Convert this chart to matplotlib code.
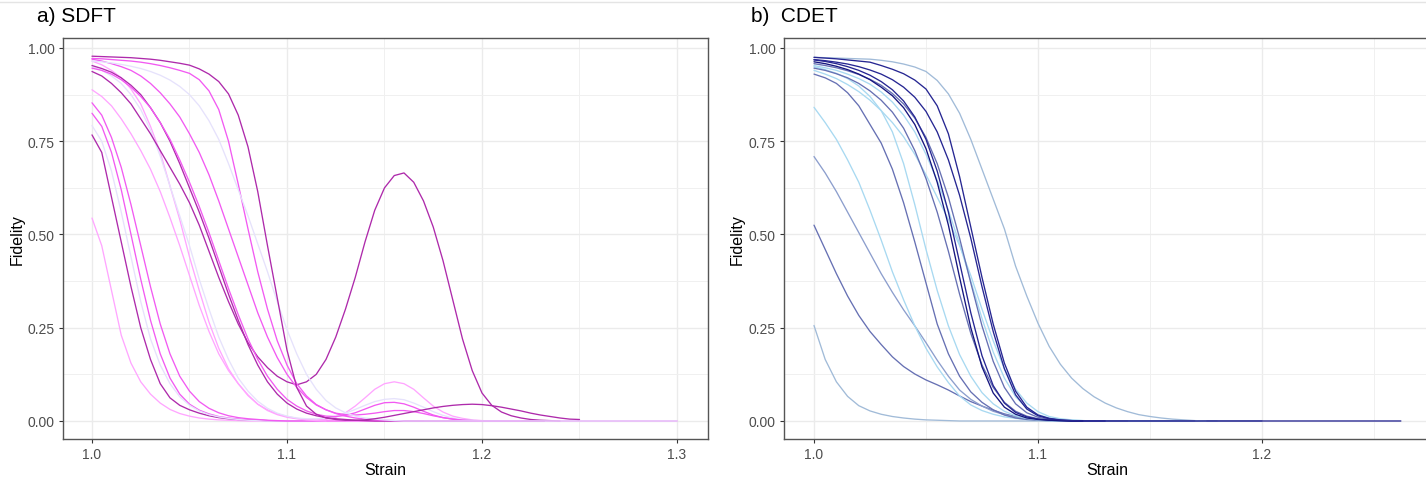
import matplotlib
matplotlib.use("Agg")
import matplotlib.pyplot as plt
from matplotlib.lines import Line2D
from matplotlib.ticker import MultipleLocator

plt.rcParams['font.family'] = ['Liberation Sans', 'DejaVu Sans']

# Strain grid shared by every curve (step 0.005)
strain_grid = [1.000, 1.005, 1.010, 1.015, 1.020, 1.025, 1.030, 1.035, 1.040, 1.045,
               1.050, 1.055, 1.060, 1.065, 1.070, 1.075, 1.080, 1.085, 1.090, 1.095,
               1.100, 1.105, 1.110, 1.115, 1.120, 1.125, 1.130, 1.135, 1.140, 1.145,
               1.150, 1.155, 1.160, 1.165, 1.170, 1.175, 1.180, 1.185, 1.190, 1.195,
               1.200, 1.205, 1.210, 1.215, 1.220, 1.225, 1.230, 1.235, 1.240, 1.245,
               1.250]

# ---- a) SDFT fidelity curves ----
sdft_1 = [0.544, 0.47, 0.35, 0.23, 0.155, 0.105, 0.072, 0.048, 0.031, 0.020, 0.013, 0.008, 0.005, 0.003, 0.002, 0.001, 0.0]
sdft_2 = [0.767, 0.72, 0.60, 0.48, 0.36, 0.25, 0.165, 0.10, 0.062, 0.042, 0.030, 0.021, 0.014, 0.009, 0.006, 0.004, 0.003, 0.002, 0.001, 0.0]
sdft_3 = [0.825, 0.79, 0.72, 0.62, 0.50, 0.38, 0.27, 0.18, 0.115, 0.072, 0.045, 0.029, 0.019, 0.012, 0.008, 0.005, 0.003, 0.002, 0.001, 0.0]
sdft_4 = [0.792, 0.75, 0.67, 0.56, 0.44, 0.32, 0.22, 0.15, 0.10, 0.065, 0.042, 0.027, 0.017, 0.011, 0.007, 0.004, 0.002, 0.001, 0.0]
sdft_5 = [0.853, 0.82, 0.76, 0.68, 0.58, 0.47, 0.36, 0.26, 0.18, 0.12, 0.08, 0.052, 0.034, 0.022, 0.014, 0.009, 0.006, 0.004, 0.002, 0.001, 0.0]
sdft_6 = [0.888, 0.87, 0.845, 0.81, 0.77, 0.725, 0.675, 0.615, 0.545, 0.47, 0.39, 0.31, 0.24, 0.18, 0.135, 0.10, 0.07, 0.045, 0.028, 0.017,
          0.010, 0.006, 0.003, 0.001, 0.0]
sdft_7 = [0.965, 0.955, 0.94, 0.92, 0.89, 0.85, 0.79, 0.72, 0.63, 0.54, 0.44, 0.35, 0.265, 0.195, 0.14, 0.10, 0.068, 0.045, 0.030, 0.019,
          0.012, 0.007, 0.004, 0.003, 0.004, 0.010, 0.022, 0.040, 0.062, 0.085, 0.100, 0.105, 0.100, 0.085, 0.062, 0.040, 0.024, 0.013, 0.007, 0.003,
          0.001, 0.0]
sdft_8 = [0.95, 0.94, 0.925, 0.905, 0.875, 0.835, 0.78, 0.71, 0.63, 0.55, 0.47, 0.38, 0.30, 0.225, 0.165, 0.115, 0.08, 0.053, 0.034, 0.021,
          0.013, 0.008, 0.006, 0.006, 0.008, 0.013, 0.021, 0.031, 0.042, 0.052, 0.058, 0.060, 0.057, 0.048, 0.037, 0.025, 0.015, 0.008, 0.004, 0.002,
          0.0]
sdft_9 = [0.937, 0.925, 0.905, 0.88, 0.85, 0.81, 0.77, 0.725, 0.68, 0.635, 0.585, 0.525, 0.455, 0.385, 0.32, 0.26, 0.21, 0.172, 0.143, 0.12,
          0.105, 0.097, 0.105, 0.125, 0.165, 0.225, 0.30, 0.385, 0.48, 0.565, 0.625, 0.658, 0.665, 0.64, 0.59, 0.52, 0.43, 0.325, 0.22, 0.135,
          0.075, 0.042, 0.024, 0.014, 0.008, 0.004, 0.002, 0.001, 0.0]
sdft_10 = [0.953, 0.945, 0.935, 0.92, 0.90, 0.875, 0.84, 0.80, 0.75, 0.69, 0.625, 0.56, 0.49, 0.415, 0.34, 0.27, 0.205, 0.15, 0.105, 0.072,
           0.048, 0.032, 0.021, 0.014, 0.009, 0.006, 0.004, 0.002, 0.001, 0.0]
sdft_11 = [0.946, 0.94, 0.93, 0.915, 0.895, 0.87, 0.84, 0.80, 0.755, 0.70, 0.64, 0.575, 0.505, 0.43, 0.355, 0.285, 0.22, 0.165, 0.12, 0.085,
           0.058, 0.04, 0.027, 0.018, 0.013, 0.012, 0.015, 0.022, 0.032, 0.042, 0.049, 0.05, 0.046, 0.037, 0.026, 0.016, 0.009, 0.005, 0.002, 0.001,
           0.0]
sdft_12 = [0.97, 0.965, 0.958, 0.95, 0.94, 0.925, 0.905, 0.88, 0.85, 0.815, 0.77, 0.72, 0.66, 0.59, 0.515, 0.44, 0.365, 0.29, 0.225, 0.17,
           0.125, 0.09, 0.063, 0.043, 0.03, 0.02, 0.013, 0.008, 0.005, 0.003, 0.002, 0.001, 0.0]
sdft_13 = [0.972, 0.971, 0.969, 0.967, 0.965, 0.962, 0.958, 0.953, 0.947, 0.94, 0.932, 0.915, 0.885, 0.835, 0.75, 0.635, 0.515, 0.40, 0.30, 0.215,
           0.15, 0.10, 0.067, 0.044, 0.03, 0.021, 0.017, 0.016, 0.018, 0.021, 0.025, 0.028, 0.028, 0.025, 0.02, 0.014, 0.009, 0.005, 0.002, 0.001,
           0.0]
sdft_14 = [0.965, 0.963, 0.96, 0.956, 0.951, 0.945, 0.937, 0.927, 0.914, 0.897, 0.875, 0.845, 0.805, 0.755, 0.69, 0.62, 0.55, 0.475, 0.40, 0.32,
           0.245, 0.18, 0.125, 0.085, 0.055, 0.035, 0.022, 0.013, 0.008, 0.005, 0.003, 0.001, 0.0]
sdft_15 = [0.978, 0.977, 0.976, 0.975, 0.974, 0.972, 0.970, 0.967, 0.963, 0.959, 0.954, 0.944, 0.93, 0.91, 0.877, 0.82, 0.735, 0.615, 0.47, 0.33,
           0.19, 0.09, 0.04, 0.018, 0.008, 0.004, 0.002, 0.002, 0.003, 0.006, 0.01, 0.015, 0.02, 0.025, 0.03, 0.035, 0.039, 0.042, 0.044, 0.045,
           0.044, 0.041, 0.037, 0.032, 0.027, 0.021, 0.016, 0.012, 0.008, 0.005, 0.004]

sdft_curves = [sdft_1, sdft_2, sdft_3, sdft_4, sdft_5, sdft_6, sdft_7, sdft_8,
               sdft_9, sdft_10, sdft_11, sdft_12, sdft_13, sdft_14, sdft_15]
sdft_end = [1.10, 1.13, 1.15, 1.12, 1.17, 1.20, 1.205, 1.21, 1.24, 1.232, 1.20, 1.30, 1.22, 1.30, 1.25]
sdft_shade = ['P', 'D', 'M', 'L', 'M', 'P', 'P', 'L', 'D', 'D', 'M', 'M', 'M', 'L', 'D']
sdft_colors = {'D': '#AE2AAB', 'M': '#F25AF2', 'P': '#FFA6FF', 'L': '#E6E2FC'}

# ---- b) CDET fidelity curves ----
cdet_1 = [0.975, 0.974, 0.973, 0.972, 0.971, 0.970, 0.967, 0.963, 0.957, 0.949, 0.937, 0.913, 0.877, 0.825, 0.755, 0.675, 0.595, 0.515, 0.415, 0.335,
          0.262, 0.2, 0.152, 0.115, 0.087, 0.065, 0.048, 0.035, 0.025, 0.017, 0.012, 0.008, 0.005, 0.003, 0.001, 0.0]
cdet_2 = [0.975, 0.973, 0.971, 0.968, 0.965, 0.962, 0.953, 0.943, 0.931, 0.914, 0.89, 0.845, 0.77, 0.655, 0.52, 0.385, 0.26, 0.155, 0.08, 0.037,
          0.016, 0.007, 0.003, 0.001, 0.0]
cdet_3 = [0.969, 0.966, 0.962, 0.957, 0.95, 0.941, 0.93, 0.915, 0.895, 0.868, 0.83, 0.775, 0.70, 0.605, 0.49, 0.36, 0.24, 0.14, 0.07, 0.032,
          0.014, 0.006, 0.002, 0.001, 0.0]
cdet_4 = [0.953, 0.947, 0.94, 0.93, 0.918, 0.903, 0.882, 0.855, 0.82, 0.775, 0.715, 0.645, 0.565, 0.475, 0.375, 0.275, 0.185, 0.115, 0.065, 0.035,
          0.017, 0.008, 0.004, 0.002, 0.001, 0.0]
cdet_5 = [0.968, 0.964, 0.958, 0.95, 0.94, 0.927, 0.91, 0.888, 0.858, 0.815, 0.755, 0.67, 0.56, 0.425, 0.29, 0.175, 0.095, 0.048, 0.023, 0.011,
          0.005, 0.002, 0.001, 0.0]
cdet_6 = [0.946, 0.94, 0.931, 0.92, 0.905, 0.885, 0.86, 0.828, 0.785, 0.725, 0.65, 0.56, 0.455, 0.34, 0.235, 0.15, 0.09, 0.05, 0.026, 0.013,
          0.006, 0.003, 0.001, 0.0]
cdet_7 = [0.963, 0.958, 0.951, 0.942, 0.93, 0.915, 0.895, 0.872, 0.84, 0.795, 0.73, 0.64, 0.525, 0.385, 0.25, 0.145, 0.075, 0.037, 0.018, 0.008,
          0.004, 0.002, 0.001, 0.0]
cdet_8 = [0.94, 0.93, 0.918, 0.902, 0.883, 0.86, 0.832, 0.8, 0.762, 0.715, 0.66, 0.6, 0.54, 0.47, 0.39, 0.3, 0.215, 0.14, 0.085, 0.048,
          0.025, 0.012, 0.006, 0.003, 0.001, 0.0]
cdet_9 = [0.95, 0.942, 0.932, 0.918, 0.898, 0.87, 0.832, 0.775, 0.69, 0.58, 0.46, 0.35, 0.255, 0.178, 0.12, 0.076, 0.046, 0.026, 0.014, 0.007,
          0.003, 0.001, 0.0]
cdet_10 = [0.930, 0.92, 0.905, 0.88, 0.845, 0.795, 0.745, 0.675, 0.585, 0.48, 0.37, 0.26, 0.18, 0.12, 0.078, 0.05, 0.03, 0.016, 0.008, 0.004,
           0.002, 0.001, 0.0]
cdet_11 = [0.841, 0.80, 0.755, 0.70, 0.64, 0.565, 0.485, 0.40, 0.325, 0.255, 0.195, 0.145, 0.103, 0.067, 0.043, 0.028, 0.018, 0.011, 0.007, 0.004,
           0.002, 0.001, 0.0]
cdet_12 = [0.709, 0.665, 0.615, 0.56, 0.505, 0.45, 0.395, 0.345, 0.298, 0.255, 0.21, 0.163, 0.12, 0.083, 0.058, 0.04, 0.026, 0.017, 0.01, 0.006,
           0.003, 0.001, 0.0]
cdet_13 = [0.525, 0.46, 0.395, 0.335, 0.283, 0.24, 0.205, 0.172, 0.146, 0.126, 0.11, 0.097, 0.083, 0.067, 0.052, 0.04, 0.029, 0.019, 0.012, 0.007,
           0.004, 0.002, 0.001, 0.0]
cdet_14 = [0.256, 0.165, 0.105, 0.066, 0.041, 0.027, 0.018, 0.012, 0.008, 0.005, 0.003, 0.002, 0.001, 0.0]
cdet_15 = [0.958, 0.953, 0.947, 0.939, 0.929, 0.916, 0.9, 0.878, 0.85, 0.812, 0.76, 0.69, 0.6, 0.49, 0.37, 0.255, 0.16, 0.09, 0.046, 0.022,
           0.01, 0.004, 0.002, 0.0]

cdet_curves = [cdet_14, cdet_13, cdet_12, cdet_11, cdet_10, cdet_9, cdet_8, cdet_4,
               cdet_1, cdet_6, cdet_15, cdet_3, cdet_5, cdet_7, cdet_2]
cdet_end = [1.18, 1.12, 1.15, 1.14, 1.20, 1.13, 1.17, 1.15, 1.175, 1.14, 1.17, 1.13, 1.12, 1.12, 1.262]
cdet_shade = ['LS', 'S', 'SL', 'LB', 'S', 'LB', 'LB', 'LB', 'LS', 'S', 'S', 'N', 'N', 'DN', 'N']
cdet_colors = {'DN': '#15157F', 'N': '#262692', 'S': '#6670B3', 'SL': '#8C9ECD',
               'LB': '#A8D9F1', 'LS': '#A1BBD8'}

W, H = 1426, 481
fig = plt.figure(figsize=(W / 100, H / 100), dpi=100)

# thin rule at the very top of the canvas
fig.add_artist(Line2D([0, 1], [1 - 2.5 / H, 1 - 2.5 / H], color='#E4E4E4', lw=1.0))


def style_axes(ax, xmin, xmax, xmajor):
    ax.set_xlim(xmin, xmax)
    ax.set_ylim(-0.0483, 1.0268)
    ax.set_xticks(xmajor)
    ax.set_xticklabels(['%.1f' % v for v in xmajor])
    ax.xaxis.set_minor_locator(MultipleLocator(0.05))
    ax.set_yticks([0.0, 0.25, 0.5, 0.75, 1.0])
    ax.set_yticklabels(['0.00', '0.25', '0.50', '0.75', '1.00'])
    ax.yaxis.set_minor_locator(MultipleLocator(0.125))
    ax.grid(which='major', color='#EBEBEB', lw=1.0)
    ax.grid(which='minor', color='#F0F0F0', lw=0.7)
    ax.set_axisbelow(True)
    for sp in ax.spines.values():
        sp.set_color('#555555')
        sp.set_linewidth(1.0)
    ax.tick_params(which='major', length=3, width=0.8, color='#333333',
                   labelsize=10, labelcolor='#4D4D4D', pad=3)
    ax.tick_params(which='minor', length=0)


def draw_curves(ax, curves, ends, shades, palette):
    for vals, end, shade in zip(curves, ends, shades):
        xs = list(strain_grid[:len(vals)])
        ys = list(vals)
        if end > xs[-1]:
            xs.append(end)
            ys.append(0.0)
        ax.plot(xs, ys, color=palette[shade], lw=0.95, solid_capstyle='round')


# Panel a
axA = fig.add_axes([63 / W, (H - 440) / H, 645 / W, 401 / H])
style_axes(axA, 0.98513, 1.3159, [1.0, 1.1, 1.2, 1.3])
draw_curves(axA, sdft_curves, sdft_end, sdft_shade, sdft_colors)

# Panel b (runs past the right edge of the canvas)
axB = fig.add_axes([784 / W, (H - 440) / H, 646 / W, 401 / H])
style_axes(axB, 0.98661, 1.275, [1.0, 1.1, 1.2])
draw_curves(axB, cdet_curves, cdet_end, cdet_shade, cdet_colors)

# Titles and axis labels
fig.text(37 / W, 1 - 17 / H, "a) SDFT", fontsize=15, ha='left', va='center')
fig.text(751 / W, 1 - 17 / H, "b)  CDET", fontsize=15, ha='left', va='center')
fig.text(17 / W, 1 - 240 / H, "Fidelity", fontsize=11.5, rotation=90, ha='center', va='center')
fig.text(737 / W, 1 - 240 / H, "Fidelity", fontsize=11.5, rotation=90, ha='center', va='center')
fig.text(385.5 / W, 1 - 471 / H, "Strain", fontsize=11.5, ha='center', va='center')
fig.text(1107 / W, 1 - 471 / H, "Strain", fontsize=11.5, ha='center', va='center')

fig.savefig('out.png', dpi=100)
